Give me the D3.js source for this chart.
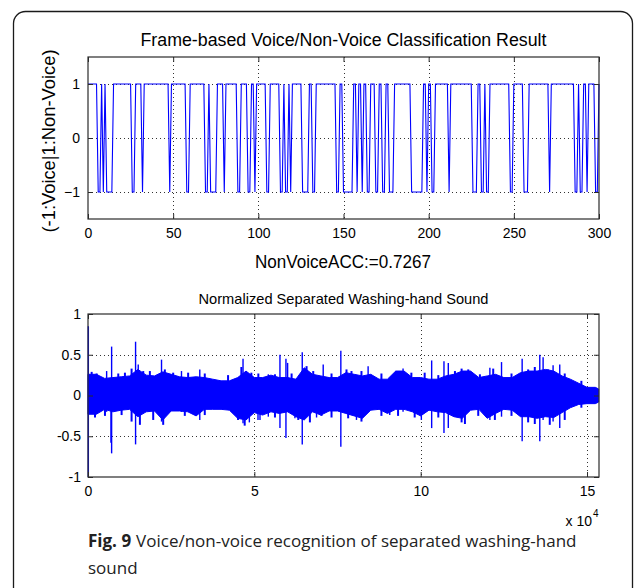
<!DOCTYPE html>
<html>
<head>
<meta charset="utf-8">
<script src="https://cdn.jsdelivr.net/npm/d3@7"></script>
<style>
body { margin: 0; background: #fff; }
svg { display: block; }
</style>
</head>
<body>
<div id="chart"></div>
<script>
// ---- top plot: frame decisions, run-length coded (1 = non-voice, -1 = voice)
var runValues  = [1,-1,1,-1,1,-1,1,-1,1,-1,1,-1,1,-1,1,-1,1,-1,1,-1,1,-1,1,-1,1,-1,1,
                  1,-1,1,-1,1,-1,1,-1,1,-1,1,-1,1,-1,1,-1,1,-1,1,-1,1,-1,1,-1,1,-1,1,-1,1,-1,
                  1,-1,1,-1,1,-1,1,-1,1,-1,1,-1,1,-1,1,-1,1,-1,1,-1,1,-1,1,-1,1,-1,1];
var runLengths = [6,2,1,1,1,4,11,2,4,1,15,1,9,2,9,2,1,4,4,1,7,2,4,2,2,1,1,
                  5,2,6,2,1,2,1,1,6,4,2,2,12,2,2,6,2,1,2,1,2,2,3,2,2,2,2,3,10,7,
                  2,1,2,2,8,1,13,3,2,2,1,2,12,2,6,3,12,1,14,2,1,2,2,1,4,2,1];
var frameTicks = [0, 50, 100, 150, 200, 250, 300];
var classTicks = [-1, 0, 1];

// ---- bottom plot: waveform envelope (x in units of 10^4 samples)
var envX  = [0,0.25,0.5,0.75, 1,1.25,1.5,1.75, 2,2.25,2.5,2.75, 3,3.25,3.5,3.75,
             4,4.25,4.5,4.75, 5,5.25,5.5,5.75, 6,6.25,6.5,6.75, 7,7.25,7.5,7.75,
             8,8.25,8.5,8.75, 9,9.25,9.5,9.75, 10,10.25,10.5,10.75, 11,11.25,11.5,11.75,
             12,12.25,12.5,12.75, 13,13.25,13.5,13.75, 14,14.25,14.5,14.75, 15,15.25,15.35];
var envHi = [0.26,0.26,0.21,0.22, 0.23,0.24,0.32,0.25, 0.24,0.29,0.26,0.23, 0.22,0.23,0.22,0.20,
             0.18,0.18,0.22,0.30, 0.22,0.22,0.25,0.22, 0.22,0.20,0.34,0.26, 0.24,0.22,0.22,0.28,
             0.26,0.24,0.26,0.20, 0.20,0.30,0.30,0.22, 0.22,0.20,0.20,0.24, 0.26,0.30,0.30,0.22,
             0.24,0.26,0.22,0.22, 0.28,0.30,0.30,0.32, 0.30,0.24,0.20,0.15, 0.10,0.10,0.08];
var envLo = [-0.23,-0.23,-0.17,-0.20, -0.18,-0.17,-0.26,-0.20, -0.19,-0.30,-0.19,-0.19, -0.20,-0.25,-0.17,-0.17,
             -0.17,-0.18,-0.28,-0.30, -0.21,-0.24,-0.20,-0.22, -0.20,-0.26,-0.30,-0.20, -0.24,-0.19,-0.19,-0.22,
             -0.25,-0.28,-0.18,-0.17, -0.22,-0.17,-0.17,-0.20, -0.25,-0.18,-0.20,-0.21, -0.26,-0.28,-0.18,-0.17,
             -0.28,-0.22,-0.17,-0.18, -0.26,-0.26,-0.28,-0.26, -0.27,-0.21,-0.15,-0.11, -0.10,-0.10,-0.08];
// isolated tall peaks
var spikeX  = [0.01,0.56,0.69,0.71,1.43,1.51,2.21,2.81,3.36,4.66,4.85,5.11,
               5.17,5.42,5.77,5.95,6.00,6.22,6.44,6.87,7.07,7.60,8.07,8.42,9.07,9.47,10.02,
               10.33,10.70,10.83,12.08,12.43,13.05,13.58,13.68,13.98,14.18];
var spikeHi = [0.85,0.30,0.20,0.60,0.66,0.38,0.44,0.30,0.32,0.45,0.20,0.20,
               0.20,0.26,0.50,0.45,0.40,0.20,0.53,0.20,0.38,0.55,0.20,0.36,0.20,0.33,0.20,
               0.43,0.42,0.40,0.34,0.41,0.45,0.50,0.47,0.37,0.38];
var spikeLo = [-1.00,-0.20,-0.58,-0.71,-0.60,-0.25,-0.32,-0.20,-0.30,-0.34,-0.33,-0.30,
               -0.30,-0.26,-0.40,-0.52,-0.20,-0.28,-0.60,-0.27,-0.20,-0.63,-0.30,-0.20,-0.24,-0.20,-0.30,
               -0.40,-0.46,-0.40,-0.30,-0.26,-0.56,-0.56,-0.30,-0.32,-0.40];
// smaller bursts that roughen the edge of the envelope
var burstX  = [0.11,0.21,0.26,0.51,0.91,1.01,1.11,1.31,1.56,1.66,1.86,1.96,2.26,2.31,2.56,2.91,3.01,3.51,
               4.21,4.51,4.61,4.71,4.91,5.12,5.62,6.12,6.32,6.57,6.67,6.77,7.02,7.32,7.77,7.82,7.92,
               8.22,8.82,9.27,9.32,9.72,9.82,10.12,10.53,11.03,11.23,11.33,11.43,11.73,11.78,12.18,
               12.23,12.73,13.23,13.43,13.83,13.88,14.33,14.83];
var burstHi = [0.29,0.10,0.27,0.10,0.27,0.10,0.28,0.33,0.10,0.30,0.30,0.10,0.10,0.32,0.28,0.10,0.28,0.27,
               0.25,0.10,0.35,0.10,0.28,0.27,0.26,0.27,0.10,0.36,0.10,0.30,0.10,0.27,0.32,0.10,0.30,
               0.30,0.27,0.30,0.10,0.28,0.10,0.28,0.25,0.30,0.33,0.10,0.32,0.10,0.26,0.33,
               0.10,0.27,0.32,0.35,0.32,0.10,0.27,0.18];
var burstLo = [-0.10,-0.27,-0.10,-0.25,-0.10,-0.24,-0.10,-0.32,-0.36,-0.10,-0.10,-0.30,-0.36,-0.10,-0.10,-0.25,-0.10,-0.24,
               -0.10,-0.30,-0.10,-0.37,-0.10,-0.10,-0.27,-0.10,-0.30,-0.10,-0.33,-0.10,-0.25,-0.27,-0.10,-0.28,-0.10,
               -0.32,-0.25,-0.10,-0.25,-0.10,-0.27,-0.10,-0.27,-0.10,-0.33,-0.35,-0.10,-0.25,-0.10,-0.10,
               -0.30,-0.25,-0.33,-0.35,-0.10,-0.36,-0.30,-0.15];
var sampleTicks = [0, 5, 10, 15];
var ampTicks = [-1, -0.5, 0, 0.5, 1];

// expand runs into one value per frame
var frames = [];
runValues.forEach(function (v, i) {
    for (var k = 0; k < runLengths[i]; k++) frames.push(v);
});

var W = 635, H = 588;
var FONT = "'Liberation Sans', Arial, sans-serif";
var axisColor = "#2b2b2b";

var svg = d3.select("#chart").append("svg")
    .attr("width", W).attr("height", H);

// rounded figure frame (runs off the bottom edge)
svg.append("rect")
    .attr("x", 13.5).attr("y", 11.5)
    .attr("width", 619).attr("height", 640)
    .attr("rx", 12)
    .attr("fill", "none")
    .attr("stroke", "#1a1a1a")
    .attr("stroke-width", 1.3);

// dotted grid behind the data
function drawGrid(x, y, xTicks, yTicks) {
    var x0 = x.range()[0], x1 = x.range()[1];
    var y0 = y.range()[0], y1 = y.range()[1];
    var g = svg.append("g");
    g.selectAll(".vgrid").data(xTicks.filter(function (d) { return x(d) > x0 + 1 && x(d) < x1 - 1; }))
        .enter().append("line")
        .attr("x1", function (d) { return Math.round(x(d)) + 0.5; })
        .attr("x2", function (d) { return Math.round(x(d)) + 0.5; })
        .attr("y1", y1).attr("y2", y0)
        .attr("stroke", "#333").attr("stroke-width", 1)
        .attr("stroke-dasharray", "1,3");
    g.selectAll(".hgrid").data(yTicks.filter(function (d) { return y(d) < y0 - 1 && y(d) > y1 + 1; }))
        .enter().append("line")
        .attr("y1", function (d) { return Math.round(y(d)) + 0.5; })
        .attr("y2", function (d) { return Math.round(y(d)) + 0.5; })
        .attr("x1", x0).attr("x2", x1)
        .attr("stroke", "#333").attr("stroke-width", 1)
        .attr("stroke-dasharray", "1,3");
}

// box with inward ticks on all four sides
function drawBox(x, y, xTicks, yTicks, xFmt, yFmt, xPad, yPad) {
    var x0 = x.range()[0], x1 = x.range()[1];
    var y0 = y.range()[0], y1 = y.range()[1];

    var gb = svg.append("g").attr("transform", "translate(0," + y0 + ")")
        .call(d3.axisBottom(x).tickValues(xTicks).tickFormat(xFmt).tickSizeInner(-5).tickSizeOuter(0).tickPadding(xPad));
    var gt = svg.append("g").attr("transform", "translate(0," + y1 + ")")
        .call(d3.axisTop(x).tickValues(xTicks).tickFormat("").tickSizeInner(-5).tickSizeOuter(0));
    var gl = svg.append("g").attr("transform", "translate(" + x0 + ",0)")
        .call(d3.axisLeft(y).tickValues(yTicks).tickFormat(yFmt).tickSizeInner(-5).tickSizeOuter(0).tickPadding(yPad));
    var gr = svg.append("g").attr("transform", "translate(" + x1 + ",0)")
        .call(d3.axisRight(y).tickValues(yTicks).tickFormat("").tickSizeInner(-5).tickSizeOuter(0));

    [gb, gt, gl, gr].forEach(function (g) {
        g.selectAll(".domain").remove();
        g.selectAll("line").attr("stroke", axisColor);
        g.selectAll("text").attr("fill", "#000")
            .style("font-family", FONT).style("font-size", "14px");
    });

    svg.append("rect")
        .attr("x", x0).attr("y", y1)
        .attr("width", x1 - x0).attr("height", y0 - y1)
        .attr("fill", "none").attr("stroke", axisColor).attr("stroke-width", 1.2);
}

function label(x, y, txt, size, len, rot) {
    var t = svg.append("text")
        .attr("text-anchor", "middle")
        .style("font-family", FONT).style("font-size", size + "px")
        .attr("textLength", len).attr("lengthAdjust", "spacingAndGlyphs")
        .text(txt);
    if (rot) t.attr("transform", "translate(" + x + "," + y + ") rotate(-90)");
    else t.attr("x", x).attr("y", y);
    return t;
}

// ---------------- top plot ----------------
var x1s = d3.scaleLinear().domain([0, 300]).range([88, 599]);
var y1s = d3.scaleLinear().domain([-1.5, 1.5]).range([219, 57]);

drawGrid(x1s, y1s, frameTicks, classTicks);

svg.append("path")
    .datum(frames)
    .attr("d", d3.line()
        .x(function (d, i) { return x1s(i); })
        .y(function (d) { return y1s(d); }))
    .attr("fill", "none")
    .attr("stroke", "#0000ff")
    .attr("stroke-width", 1.1);

drawBox(x1s, y1s, frameTicks, classTicks, d3.format("d"), d3.format("d"), 9, 8);

label(343.5, 46, "Frame-based Voice/Non-Voice Classification Result", 17.5, 406);
label(55, 141, "(-1:Voice|1:Non-Voice)", 17.5, 183, true);
label(343, 268, "NonVoiceACC:=0.7267", 17.5, 176);

// ---------------- bottom plot ----------------
var x2s = d3.scaleLinear().domain([0, 15.36]).range([88, 599]);
var y2s = d3.scaleLinear().domain([-1, 1]).range([477, 314]);

drawGrid(x2s, y2s, sampleTicks, ampTicks);

var env = envX.map(function (d, i) { return {x: d, hi: envHi[i], lo: envLo[i]}; });
svg.append("path")
    .datum(env)
    .attr("d", d3.area()
        .x(function (d) { return x2s(d.x); })
        .y0(function (d) { return y2s(d.lo); })
        .y1(function (d) { return y2s(d.hi); }))
    .attr("fill", "#0000ff")
    .attr("stroke", "#0000ff")
    .attr("stroke-width", 1);

svg.selectAll(".burst")
    .data(burstX)
    .enter().append("line")
    .attr("x1", function (d) { return x2s(d); })
    .attr("x2", function (d) { return x2s(d); })
    .attr("y1", function (d, i) { return y2s(burstHi[i]); })
    .attr("y2", function (d, i) { return y2s(burstLo[i]); })
    .attr("stroke", "#0000ff")
    .attr("stroke-width", 2);

svg.selectAll(".spike")
    .data(spikeX)
    .enter().append("line")
    .attr("x1", function (d) { return x2s(d); })
    .attr("x2", function (d) { return x2s(d); })
    .attr("y1", function (d, i) { return y2s(spikeHi[i]); })
    .attr("y2", function (d, i) { return y2s(spikeLo[i]); })
    .attr("stroke", "#0000ff")
    .attr("stroke-width", 1.4);

drawBox(x2s, y2s, sampleTicks, ampTicks, d3.format("d"), function (d) { return String(d); }, 9, 7);

label(343.5, 304, "Normalized Separated Washing-hand Sound", 15, 290);

// x 10^4 multiplier
svg.append("text")
    .attr("x", 592).attr("y", 526)
    .attr("text-anchor", "end")
    .style("font-family", FONT).style("font-size", "14px")
    .text("x 10");
svg.append("text")
    .attr("x", 593).attr("y", 517)
    .style("font-family", FONT).style("font-size", "10px")
    .text("4");

// caption
var cap = svg.append("text")
    .attr("x", 88).attr("y", 547)
    .style("font-family", "'Open Sans', 'Noto Sans', sans-serif")
    .style("font-size", "17px")
    .attr("fill", "#222");
cap.append("tspan").attr("font-weight", "bold").text("Fig. 9");
cap.append("tspan").attr("dx", 5).text("Voice/non-voice recognition of separated washing-hand");
svg.append("text")
    .attr("x", 88).attr("y", 574)
    .style("font-family", "'Open Sans', 'Noto Sans', sans-serif")
    .style("font-size", "17px")
    .attr("fill", "#222")
    .text("sound");
</script>
</body>
</html>
